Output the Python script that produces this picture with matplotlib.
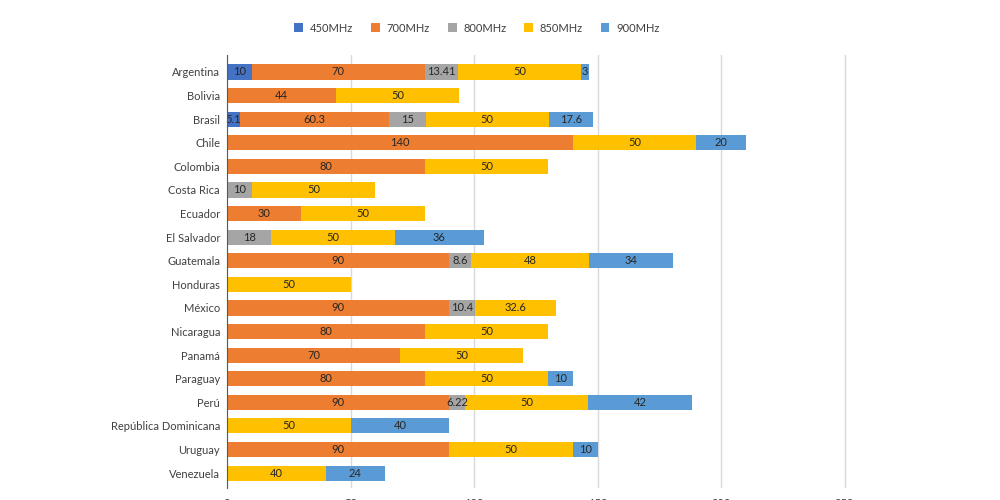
import numpy as np
import matplotlib.pyplot as plt

plt.rcParams['font.family'] = ['Lato', 'DejaVu Sans']

countries = ['Argentina', 'Bolivia', 'Brasil', 'Chile', 'Colombia', 'Costa Rica',
             'Ecuador', 'El Salvador', 'Guatemala', 'Honduras', 'México', 'Nicaragua',
             'Panamá', 'Paraguay', 'Perú', 'República Dominicana', 'Uruguay', 'Venezuela']

bands = ['450MHz', '700MHz', '800MHz', '850MHz', '900MHz']
colors = ['#4472C4', '#ED7D31', '#A5A5A5', '#FFC000', '#5B9BD5']

mhz450 = [10, 0, 5.1, 0, 0, 0, 0, 0, 0, 0, 0, 0, 0, 0, 0, 0, 0, 0]
mhz700 = [70, 44, 60.3, 140, 80, 0, 30, 0, 90, 0, 90, 80, 70, 80, 90, 0, 90, 0]
mhz800 = [13.41, 0, 15, 0, 0, 10, 0, 18, 8.6, 0, 10.4, 0, 0, 0, 6.22, 0, 0, 0]
mhz850 = [50, 50, 50, 50, 50, 50, 50, 50, 48, 50, 32.6, 50, 50, 50, 50, 50, 50, 40]
mhz900 = [3, 0, 17.6, 20, 0, 0, 0, 36, 34, 0, 0, 0, 0, 10, 42, 40, 10, 24]

series = [mhz450, mhz700, mhz800, mhz850, mhz900]

fig = plt.figure(figsize=(10, 5), dpi=100)
ax = fig.add_axes([0.227, 0.024, 0.741, 0.866])

y = np.arange(len(countries))
left = np.zeros(len(countries))
for name, vals, col in zip(bands, series, colors):
    vals = np.array(vals, dtype=float)
    bars = ax.barh(y, vals, left=left, height=0.64, color=col, label=name, zorder=3)
    for b, v in zip(bars, vals):
        if v > 0:
            ax.text(b.get_x() + b.get_width() / 2, b.get_y() + b.get_height() / 2,
                    f'{v:g}', ha='center', va='center', fontsize=8, color='#262626', zorder=4)
    left += vals

ax.set_xlim(0, 300)
ax.set_ylim(17.63, -0.72)
ax.set_yticks(y)
ax.set_yticklabels(countries)
ax.set_xticks([0, 50, 100, 150, 200, 250])
ax.tick_params(axis='both', length=0, labelsize=8, colors='#404040')
ax.tick_params(axis='x', pad=7)
ax.tick_params(axis='y', pad=5)
ax.grid(axis='x', color='#d9d9d9', lw=1, zorder=0)
for s in ['top', 'right', 'bottom']:
    ax.spines[s].set_visible(False)
ax.spines['left'].set_color('#595959')
ax.spines['left'].set_zorder(5)

fig.legend(loc='center', bbox_to_anchor=(0.477, 0.944), ncol=5, frameon=False,
           fontsize=8, handlelength=0.8, handleheight=0.8, columnspacing=1.6,
           handletextpad=0.6, labelcolor='#404040')

fig.savefig('out.png', dpi=100)
